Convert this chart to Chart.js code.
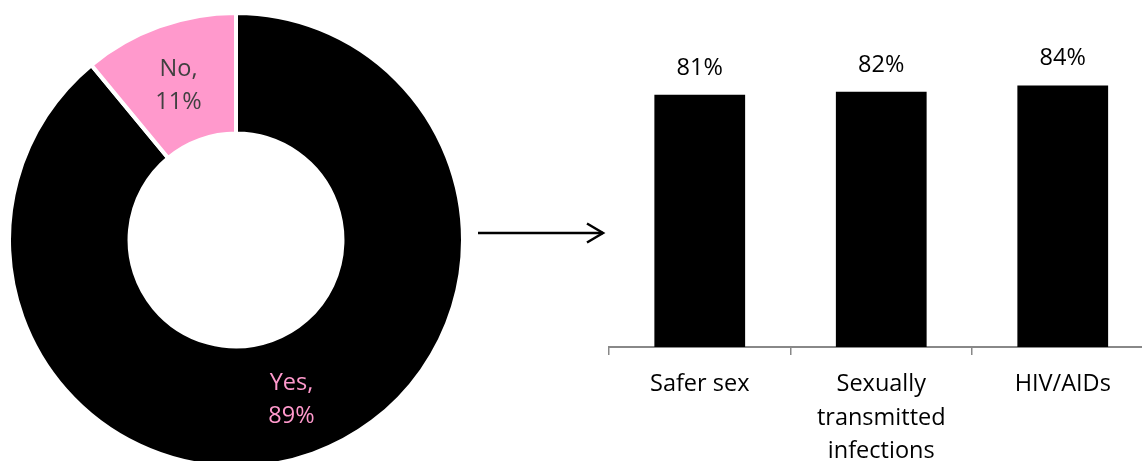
<!DOCTYPE html>
<html>
<head>
<meta charset="utf-8">
<script src="https://cdn.jsdelivr.net/npm/chart.js@4.4.1/dist/chart.umd.min.js"></script>
<style>
  html, body { margin: 0; padding: 0; background: #fff; }
  body { width: 1142px; height: 461px; overflow: hidden; position: relative; }
  #donut { position: absolute; left: 7px; top: 11px; }
  #bars { position: absolute; left: 560px; top: 0px; }
  #arrow { position: absolute; left: 0; top: 0; }
</style>
</head>
<body>
<canvas id="donut" width="458" height="458"></canvas>
<svg id="arrow" width="1142" height="461">
  <line x1="478" y1="233" x2="603" y2="233" stroke="#000" stroke-width="2.5"/>
  <polyline points="587,223.5 603,233 587,242.5" fill="none" stroke="#000" stroke-width="2.5"/>
</svg>
<canvas id="bars" width="620" height="461"></canvas>
<script>
// ---- data ----
const donutLabels = ['Yes', 'No'];
const donutValues = [89, 11];
const donutColors = ['#000000', '#FF99CC'];
const donutTextColors = ['#FF99CC', '#404040'];

const barCategories = [['Safer sex'], ['Sexually', 'transmitted', 'infections'], ['HIV/AIDs']];
const barValues = [81, 82, 84];

const FONT = '"Open Sans", "Noto Sans", sans-serif';
const FSIZE = 23.5;
const LINE_H = 33;

// ---- donut ----
const donutLabelPlugin = {
  id: 'donutLabels',
  afterDatasetsDraw(chart) {
    const ctx = chart.ctx;
    const meta = chart.getDatasetMeta(0);
    ctx.save();
    ctx.font = FSIZE + 'px ' + FONT;
    ctx.textAlign = 'center';
    ctx.textBaseline = 'middle';
    meta.data.forEach((arc, i) => {
      const p = arc.tooltipPosition();
      ctx.fillStyle = donutTextColors[i];
      ctx.fillText(donutLabels[i] + ',', p.x - 1, p.y + 3 - LINE_H / 2);
      ctx.fillText(donutValues[i] + '%', p.x - 1, p.y + 3 + LINE_H / 2);
    });
    ctx.restore();
  }
};

new Chart(document.getElementById('donut'), {
  type: 'doughnut',
  data: {
    labels: donutLabels,
    datasets: [{
      data: donutValues,
      backgroundColor: donutColors,
      borderColor: '#ffffff',
      borderWidth: 4,
      hoverOffset: 0,
      offset: 0
    }]
  },
  options: {
    responsive: false,
    animation: false,
    events: [],
    cutout: '46.9%',
    layout: { padding: 0 },
    plugins: { legend: { display: false }, tooltip: { enabled: false } }
  },
  plugins: [donutLabelPlugin]
});

// ---- bars ----
const barValuePlugin = {
  id: 'barValues',
  afterDatasetsDraw(chart) {
    const ctx = chart.ctx;
    const meta = chart.getDatasetMeta(0);
    ctx.save();
    ctx.font = FSIZE + 'px ' + FONT;
    ctx.fillStyle = '#000';
    ctx.textAlign = 'center';
    ctx.textBaseline = 'alphabetic';
    meta.data.forEach((bar, i) => {
      ctx.fillText(barValues[i] + '%', bar.x, bar.y - 20);
    });
    ctx.restore();
  }
};

new Chart(document.getElementById('bars'), {
  type: 'bar',
  data: {
    labels: barCategories,
    datasets: [{
      data: barValues,
      backgroundColor: '#000000',
      borderWidth: 0,
      categoryPercentage: 1.0,
      barPercentage: 0.5
    }]
  },
  options: {
    responsive: false,
    animation: false,
    events: [],
    layout: { padding: { left: 49, right: 26.5, top: 35.6, bottom: 0 } },
    plugins: { legend: { display: false }, tooltip: { enabled: false } },
    scales: {
      x: {
        offset: true,
        grid: { offset: true, drawOnChartArea: false, drawTicks: true, tickLength: 8, color: '#888888', lineWidth: 1.5 },
        border: { display: true, color: '#888888', width: 2 },
        ticks: {
          color: '#000000',
          font: { family: FONT, size: FSIZE, lineHeight: 33.5 / FSIZE },
          padding: 13,
          maxRotation: 0,
          autoSkip: false
        },
        afterFit(scale) { scale.height = 114; }
      },
      y: { display: false, min: 0, max: 100 }
    }
  },
  plugins: [barValuePlugin]
});
</script>
</body>
</html>
